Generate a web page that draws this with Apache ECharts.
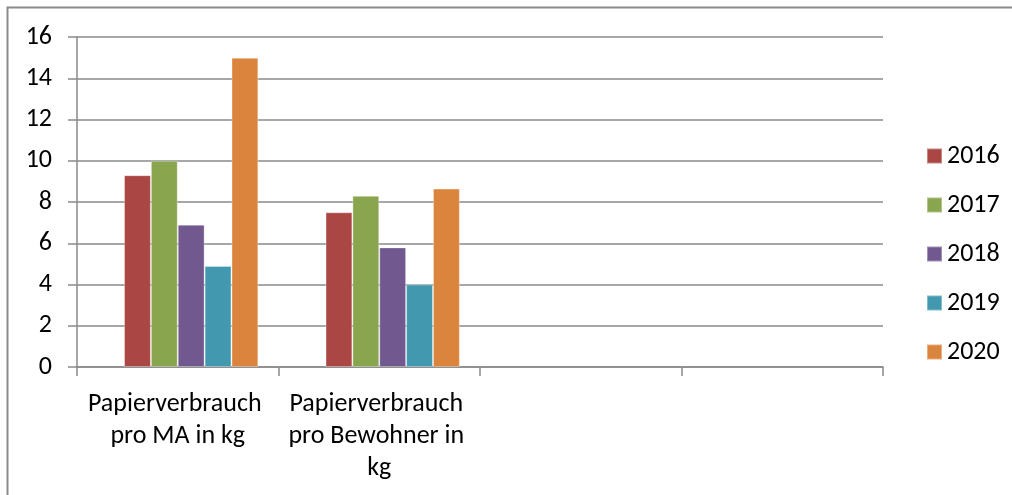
<!DOCTYPE html>
<html>
<head>
<meta charset="utf-8">
<script src="https://cdn.jsdelivr.net/npm/echarts@6/dist/echarts.min.js"></script>
<style>
  html, body { margin: 0; padding: 0; background: #ffffff; }
  #chart { width: 1012px; height: 495px; }
</style>
</head>
<body>
<div id="chart"></div>
<script>
// Paper consumption per staff member and per resident, 2016–2020
const categories = ['Papierverbrauch pro MA in kg', 'Papierverbrauch pro Bewohner in kg', '', ''];
const years = ['2016', '2017', '2018', '2019', '2020'];
const values2016 = [9.3, 7.5, null, null];
const values2017 = [10.0, 8.3, null, null];
const values2018 = [6.9, 5.8, null, null];
const values2019 = [4.9, 4.0, null, null];
const values2020 = [15.0, 8.65, null, null];
// an empty leading slot in each bar cluster (series without values)
const emptySlot = [null, null, null, null];
const yTicks = { min: 0, max: 16, interval: 2 };

const seriesValues = [values2016, values2017, values2018, values2019, values2020];
const palette = ['#AA4643', '#89A54E', '#71588F', '#4198AF', '#DB843D'];
const font = 'Carlito, Lato, "Liberation Sans", sans-serif';
const gridGray = '#8a8a8a';

const chart = echarts.init(document.getElementById('chart'), null, { renderer: 'canvas' });

const barSeries = [{
  name: 'slot',
  type: 'bar',
  data: emptySlot,
  barGap: '0%',
  barCategoryGap: '20%',
  silent: true
}].concat(years.map((y, i) => ({
  name: y,
  type: 'bar',
  data: seriesValues[i],
  barGap: '0%',
  barCategoryGap: '20%',
  itemStyle: { color: palette[i], borderColor: 'rgba(255,255,255,0.35)', borderWidth: 1 }
})));

chart.setOption({
  animation: false,
  backgroundColor: '#ffffff',
  textStyle: { fontFamily: font },
  graphic: [{
    type: 'rect',
    shape: { x: 7.5, y: 7.5, width: 1100, height: 600 },
    style: { fill: 'none', stroke: '#8a8a8a', lineWidth: 2 },
    silent: true
  }],
  grid: { left: 77, right: 129, top: 37, bottom: 128, containLabel: false },
  legend: {
    orient: 'vertical',
    left: 926,
    top: 143,
    padding: 0,
    icon: 'rect',
    itemWidth: 15,
    itemHeight: 15,
    itemGap: 23,
    data: years.map((y, i) => ({ name: y, itemStyle: { color: palette[i] } })),
    textStyle: { fontFamily: font, fontSize: 26, lineHeight: 25, color: '#000' }
  },
  xAxis: {
    type: 'category',
    data: categories,
    boundaryGap: true,
    axisLine: { show: true, lineStyle: { color: gridGray, width: 1.5 } },
    axisTick: { show: true, length: 9, alignWithLabel: false, interval: 0, lineStyle: { color: gridGray, width: 1.5 } },
    axisLabel: {
      interval: 0,
      margin: 21,
      width: 188,
      overflow: 'break',
      fontFamily: font,
      fontSize: 26,
      lineHeight: 32,
      color: '#000'
    },
    splitLine: { show: false }
  },
  yAxis: {
    type: 'value',
    min: yTicks.min,
    max: yTicks.max,
    interval: yTicks.interval,
    axisLine: { show: true, lineStyle: { color: gridGray, width: 1.5 } },
    axisTick: { show: true, length: 9, inside: false, lineStyle: { color: gridGray, width: 1.5 } },
    axisLabel: { margin: 25, fontFamily: font, fontSize: 26, color: '#000' },
    splitLine: { show: true, lineStyle: { color: gridGray, width: 1.5 } }
  },
  series: barSeries
});
</script>
</body>
</html>
